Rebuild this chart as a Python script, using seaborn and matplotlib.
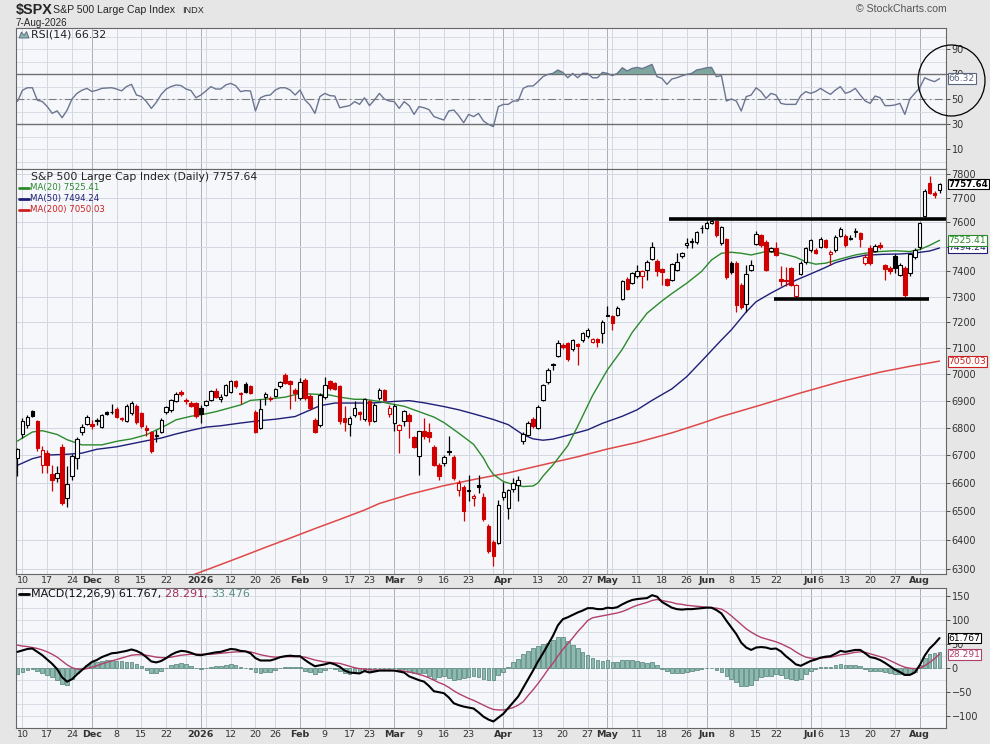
import numpy as np
import matplotlib
matplotlib.use('Agg')
import matplotlib.pyplot as plt
import seaborn as sns
from matplotlib.lines import Line2D
from matplotlib.patches import Ellipse, Polygon
from matplotlib.ticker import FixedLocator, NullLocator

# daily candles, 7-Nov-2025 .. 7-Aug-2026 (one entry per trading day)
open_px = [6690, 6777, 6811, 6863, 6824, 6666, 6708, 6633, 6619, 6732,
           6547, 6627, 6690, 6785, 6815, 6815, 6828, 6805, 6858, 6860,
           6871, 6835, 6824, 6855, 6882, 6855, 6798, 6786, 6772, 6786,
           6857, 6867, 6901, 6932, 6905, 6894, 6892, 6873, 6885, 6904,
           6938, 6906, 6923, 6935, 6973, 6930, 6964, 6956, 6860, 6801,
           6915, 6912, 6919, 6956, 6998, 6973, 6942, 6910, 6979, 6919,
           6830, 6812, 6914, 6975, 6968, 6954, 6835, 6815, 6848, 6858,
           6832, 6898, 6827, 6910, 6940, 6852, 6818, 6793, 6824, 6848,
           6765, 6696, 6787, 6785, 6732, 6666, 6672, 6716, 6694, 6577,
           6586, 6571, 6548, 6592, 6551, 6448, 6395, 6390, 6552, 6512,
           6580, 6595, 6751, 6775, 6832, 6800, 6904, 6970, 7038, 7068,
           7112, 7118, 7095, 7115, 7131, 7147, 7125, 7133, 7157, 7228,
           7224, 7228, 7292, 7370, 7355, 7380, 7383, 7406, 7450, 7442,
           7410, 7370, 7366, 7406, 7462, 7507, 7522, 7518, 7574, 7575,
           7596, 7603, 7514, 7530, 7432, 7432, 7347, 7272, 7406, 7510,
           7545, 7520, 7484, 7493, 7370, 7365, 7413, 7302, 7389, 7439,
           7486, 7488, 7500, 7525, 7470, 7486, 7544, 7544, 7532, 7558,
           7556, 7433, 7493, 7483, 7505, 7425, 7415, 7460, 7386, 7413,
           7395, 7457, 7497, 7624, 7764, 7722, 7733]
high_px = [6728, 6836, 6848, 6866, 6830, 6735, 6720, 6666, 6660, 6740,
           6660, 6705, 6768, 6815, 6848, 6830, 6835, 6852, 6862, 6888,
           6876, 6842, 6888, 6900, 6890, 6860, 6812, 6790, 6792, 6835,
           6880, 6908, 6935, 6940, 6910, 6900, 6895, 6885, 6905, 6942,
           6948, 6925, 6963, 6978, 6980, 6935, 6970, 6960, 6865, 6906,
           6935, 6918, 6950, 6975, 7003, 6978, 6948, 6985, 6985, 6925,
           6835, 6930, 6990, 6980, 6972, 6958, 6880, 6845, 6900, 6862,
           6912, 6905, 6892, 6948, 6945, 6885, 6890, 6815, 6867, 6855,
           6770, 6790, 6836, 6818, 6738, 6672, 6700, 6770, 6700, 6613,
           6592, 6631, 6560, 6631, 6565, 6455, 6400, 6540, 6605, 6580,
           6620, 6625, 6785, 6825, 6840, 6885, 6965, 7025, 7042, 7131,
           7120, 7125, 7135, 7120, 7163, 7178, 7140, 7138, 7208, 7264,
           7228, 7264, 7365, 7378, 7398, 7426, 7406, 7445, 7520, 7448,
           7415, 7375, 7435, 7473, 7480, 7534, 7534, 7565, 7589, 7605,
           7614, 7606, 7585, 7535, 7440, 7440, 7355, 7426, 7446, 7565,
           7550, 7525, 7500, 7520, 7420, 7418, 7418, 7350, 7440, 7500,
           7530, 7495, 7540, 7530, 7485, 7545, 7580, 7550, 7545, 7575,
           7560, 7470, 7505, 7510, 7520, 7430, 7420, 7470, 7433, 7420,
           7475, 7495, 7600, 7735, 7790, 7728, 7762]
low_px = [6624, 6763, 6800, 6840, 6714, 6636, 6636, 6571, 6605, 6524,
          6516, 6610, 6651, 6775, 6810, 6796, 6810, 6800, 6848, 6850,
          6836, 6825, 6820, 6848, 6815, 6800, 6770, 6710, 6750, 6780,
          6850, 6860, 6895, 6920, 6890, 6878, 6835, 6818, 6880, 6900,
          6910, 6895, 6918, 6930, 6950, 6890, 6930, 6925, 6780, 6795,
          6885, 6900, 6915, 6950, 6965, 6870, 6900, 6905, 6905, 6865,
          6780, 6805, 6908, 6940, 6940, 6815, 6790, 6770, 6840, 6830,
          6825, 6810, 6820, 6905, 6898, 6840, 6790, 6708, 6806, 6763,
          6726, 6631, 6760, 6750, 6660, 6613, 6660, 6700, 6610, 6554,
          6466, 6536, 6520, 6565, 6466, 6355, 6310, 6385, 6540, 6472,
          6570, 6536, 6740, 6770, 6800, 6795, 6898, 6965, 7015, 7065,
          7095, 7050, 7090, 7036, 7125, 7140, 7118, 7105, 7118, 7222,
          7170, 7222, 7288, 7325, 7350, 7375, 7333, 7366, 7445, 7380,
          7347, 7340, 7360, 7400, 7455, 7493, 7493, 7510, 7554, 7570,
          7590, 7540, 7505, 7370, 7390, 7240, 7250, 7240, 7400, 7505,
          7500, 7400, 7478, 7460, 7340, 7340, 7340, 7290, 7385, 7430,
          7480, 7470, 7495, 7495, 7426, 7480, 7540, 7500, 7525, 7540,
          7500, 7425, 7425, 7478, 7490, 7366, 7390, 7395, 7380, 7300,
          7380, 7450, 7490, 7620, 7715, 7700, 7720]
close_px = [6723, 6824, 6842, 6845, 6726, 6720, 6664, 6610, 6636, 6530,
            6597, 6698, 6759, 6805, 6842, 6808, 6826, 6848, 6852, 6857,
            6840, 6832, 6882, 6894, 6820, 6808, 6792, 6714, 6775, 6830,
            6876, 6904, 6927, 6926, 6900, 6880, 6845, 6852, 6898, 6938,
            6914, 6916, 6960, 6973, 6954, 6925, 6935, 6931, 6785, 6869,
            6925, 6908, 6945, 6969, 6967, 6964, 6931, 6969, 6910, 6873,
            6786, 6923, 6960, 6950, 6945, 6824, 6820, 6836, 6873, 6852,
            6906, 6824, 6885, 6942, 6904, 6873, 6880, 6812, 6861, 6824,
            6732, 6787, 6770, 6768, 6666, 6625, 6694, 6712, 6619, 6601,
            6500, 6577, 6554, 6586, 6472, 6361, 6344, 6524, 6567, 6577,
            6601, 6613, 6778, 6818, 6808, 6879, 6960, 7017, 7034, 7118,
            7103, 7058, 7131, 7108, 7157, 7170, 7133, 7125, 7202, 7224,
            7196, 7254, 7360, 7330, 7393, 7403, 7400, 7439, 7500, 7403,
            7396, 7347, 7430, 7439, 7472, 7516, 7520, 7561, 7576, 7596,
            7606, 7547, 7578, 7378, 7399, 7268, 7261, 7390, 7426, 7551,
            7507, 7406, 7493, 7466, 7363, 7360, 7347, 7345, 7432, 7493,
            7525, 7473, 7530, 7500, 7480, 7540, 7572, 7507, 7536, 7562,
            7530, 7458, 7433, 7502, 7500, 7408, 7400, 7412, 7426, 7307,
            7470, 7486, 7596, 7730, 7720, 7712, 7757.64]

# moving averages (bar index, value)
ma20_x = [0, 3, 5, 8, 10, 13, 17, 20, 23, 26, 30, 32, 35, 38, 40, 43, 45, 47, 51, 54,
          57, 60, 63, 65, 68, 70, 73, 75, 78, 81, 84, 86, 89, 92, 94, 95, 96, 98, 100, 102,
          104, 105, 106, 108, 111, 113, 116, 119, 122, 124, 127, 130, 132, 135, 138, 140, 142, 144, 146, 148,
          151, 154, 157, 159, 161, 163, 166, 169, 171, 174, 177, 180, 182, 184, 186]
ma20_y = [6752, 6785, 6790, 6776, 6757, 6738, 6738, 6751, 6760, 6775, 6810, 6830, 6843, 6852, 6860, 6875, 6885, 6902, 6908, 6914,
          6928, 6925, 6922, 6914, 6906, 6906, 6898, 6890, 6880, 6860, 6840, 6820, 6781, 6740, 6690, 6657, 6631, 6606, 6595, 6588,
          6590, 6601, 6625, 6665, 6735, 6806, 6920, 7017, 7095, 7160, 7235, 7283, 7312, 7353, 7400, 7446, 7473, 7477, 7473, 7466,
          7480, 7473, 7457, 7439, 7429, 7433, 7450, 7466, 7473, 7480, 7483, 7480, 7488, 7505, 7525.41]
ma50_x = [0, 3, 6, 10, 13, 16, 20, 23, 26, 29, 32, 35, 38, 41, 45, 49, 52, 56, 59, 61,
          64, 67, 71, 73, 76, 79, 82, 86, 89, 92, 96, 99, 102, 104, 106, 108, 111, 115, 118, 122,
          125, 128, 132, 135, 138, 142, 144, 147, 149, 152, 155, 157, 160, 163, 165, 168, 171, 175, 178, 181,
          184, 186]
ma50_y = [6664, 6688, 6701, 6704, 6708, 6722, 6731, 6742, 6753, 6763, 6778, 6791, 6803, 6808, 6818, 6827, 6832, 6842, 6866, 6882,
          6892, 6892, 6892, 6894, 6898, 6901, 6893, 6879, 6867, 6852, 6831, 6812, 6775, 6760, 6755, 6759, 6773, 6793, 6817, 6843,
          6867, 6902, 6945, 6991, 7050, 7131, 7170, 7240, 7280, 7314, 7345, 7365, 7390, 7416, 7435, 7453, 7465, 7469, 7470, 7474,
          7482, 7494.24]
ma200_x = [34, 40, 45, 50, 55, 60, 65, 70, 73, 79, 86, 92, 99, 106, 113, 119, 125, 132, 138, 142,
           150, 158, 166, 174, 180, 186]
ma200_y = [6272, 6310, 6342, 6375, 6407, 6440, 6472, 6505, 6528, 6560, 6591, 6613, 6637, 6666, 6695, 6723, 6747, 6782, 6817, 6842,
           6885, 6930, 6972, 7008, 7030, 7050.03]

rsi = [48, 57, 59, 59, 49, 48, 44, 38.5, 40.5, 35, 41, 50, 54.5, 57, 58.5, 56, 57, 58.5, 58.8, 59,
       58, 56.5, 60, 61.7, 53.2, 52, 48, 42.5, 47.3, 53.7, 58, 60, 61.2, 60.7, 58, 56.7, 51, 53.2, 56.4, 59.9,
       58, 58, 61.2, 62.5, 60.7, 55.9, 56.7, 56.4, 40.4, 51, 52.7, 53.2, 57.2, 59, 59, 57.2, 53.2, 57.2, 49.2, 45.2,
       38.5, 51.9, 54.5, 52.7, 52.4, 43, 43.9, 44.7, 47.9, 45.7, 51, 44.7, 49.2, 54.5, 50, 48.4, 47.9, 42.5, 47.9, 44.7,
       37.7, 43.9, 43, 41.5, 36, 34.5, 33.2, 40.4, 41.2, 36.7, 31, 37.7, 35.9, 38.5, 32.4, 29.7, 27.9, 43.9, 45.7, 45.7,
       48.4, 48.4, 58.5, 60.4, 60.4, 63.9, 67.9, 69.7, 70.5, 73.2, 71.3, 67, 70.5, 67, 70.5, 70.5, 67, 67, 71.3, 70.5,
       68.7, 70.5, 75, 72.4, 74.5, 75.3, 74.3, 75.9, 77.7, 67.9, 66.5, 61.7, 66, 67, 68.5, 69.7, 70.5, 73.2, 74, 75,
       75.3, 67.9, 68.7, 48.4, 50, 48.4, 40.4, 51.9, 53.2, 59, 55.9, 50.5, 54.5, 53.2, 46.5, 45.7, 45.7, 45.7, 52.7, 55.9,
       54.5, 56, 58.5, 55.9, 53.7, 57.2, 59.9, 54.5, 55.9, 58.5, 53.2, 48.4, 46.5, 52.4, 51, 44.7, 44.7, 45.2, 46.5, 37.7,
       50, 54.5, 59, 67, 65.2, 63.9, 66.32]

macd = [33, 36, 39, 40, 33, 26, 17, 8, -3, -20, -29, -24, -14, -5, 4, 12, 16, 22, 26, 30,
        31, 33, 35, 38, 35, 30, 22, 13, 11, 14, 20, 27, 32, 35, 34, 31, 27, 26, 28, 30,
        32, 33, 36, 39, 38, 35, 34, 30, 20, 15, 15, 15, 18, 22, 24, 25, 24, 24, 16, 9,
        3, 5, 7, 10, 7, 2, -6, -10, -11, -12, -7, -10, -8, -6, -6, -6, -6, -8, -10, -18,
        -22, -26, -29, -38, -49, -51, -53, -62, -74, -78, -81, -83, -85, -93, -102, -108, -112, -104, -96, -84,
        -72, -60, -42, -24, -6, 13, 30, 48, 66, 88, 101, 105, 110, 115, 119, 124, 124, 122, 122, 125,
        124, 126, 132, 137, 141, 143, 144, 145, 151, 148, 137, 131, 125, 122, 121, 122, 122, 123, 124, 125,
        125, 120, 113, 98, 84, 70, 52, 42, 37, 42, 43, 42, 39, 40, 34, 24, 16, 7, 4, 9,
        14, 17, 21, 23, 24, 29, 35, 33, 35, 37, 37, 30, 22, 20, 16, 10, 3, -4, -9, -15,
        -15, -10, 5, 25, 40, 50, 61.767]
signal = [47, 45, 44, 42, 40, 37, 33, 28, 22, 14, 6, 0, -3, -3, -2, 1, 4, 8, 11, 14,
          17, 20, 23, 26, 27, 27, 26, 24, 22, 21, 21, 22, 24, 26, 27, 28, 28, 28, 28, 28,
          29, 30, 31, 32, 33, 33, 34, 33, 30, 27, 25, 23, 22, 22, 23, 23, 23, 23, 22, 19,
          16, 14, 12, 11, 10, 9, 6, 3, 0, -2, -3, -4, -5, -5, -5, -5, -6, -6, -7, -9,
          -11, -14, -17, -21, -26, -31, -35, -41, -48, -54, -59, -64, -68, -73, -78, -83, -87, -88, -88, -86,
          -83, -78, -71, -58, -46, -33, -19, -4, 9, 24, 38, 50, 62, 75, 86, 98, 104, 106, 108, 110,
          112, 114, 117, 121, 126, 130, 133, 136, 140, 142, 140, 138, 136, 133, 132, 130, 129, 128, 127, 126,
          125, 124, 122, 116, 108, 99, 90, 81, 74, 68, 63, 60, 57, 54, 50, 45, 40, 33, 27, 22,
          20, 19, 20, 21, 22, 24, 27, 28, 30, 32, 33, 32, 29, 26, 23, 20, 15, 10, 5, 1,
          -1, -2, -1, 4, 11, 19, 28.291]

# x axis: trading-day index of the labelled weeks / months
tick_idx = [1, 6, 11, 15, 20, 25, 30, 37, 43, 48, 52, 57, 62, 67, 71, 76, 81, 86, 91, 98,
            105, 110, 115, 119, 125, 130, 135, 139, 144, 149, 153, 160, 162, 167, 172, 177, 182]
tick_lab = ['10', '17', '24', 'Dec', '8', '15', '22', '2026', '12', '20', '26', 'Feb', '9', '17', '23',
            'Mar', '9', '16', '23', 'Apr', '13', '20', '27', 'May', '11', '18', '26', 'Jun', '8', '15',
            '22', 'Jul', '6', '13', '20', '27', 'Aug']
grid_idx = [1, 6, 11, 15, 20, 25, 30, 34, 37, 38, 43, 48, 52, 57, 62, 67, 71, 76, 81, 86, 91, 96,
            98, 100, 105, 110, 115, 119, 120, 125, 130, 135, 139, 144, 149, 153, 158, 160, 162, 167,
            172, 177, 182]
month_idx = [15, 37, 57, 76, 98, 119, 139, 160, 182]
month_lab = ['Dec', '2026', 'Feb', 'Mar', 'Apr', 'May', 'Jun', 'Jul', 'Aug']

price_ticks = [6300, 6400, 6500, 6600, 6700, 6800, 6900, 7000, 7100, 7200, 7300, 7400, 7500, 7600, 7700, 7800]
rsi_ticks = [10, 30, 50, 70, 90]
macd_ticks = [-100, -50, 0, 50, 100, 150]

# trend lines drawn on the chart
resist_level, resist_span = 7612, (131.4, 187.3)
support_level, support_span = 7292, (152.6, 183.8)

sns.set_style('white')
plt.rcParams['font.family'] = ['DejaVu Sans']

W, H = 990, 744
fig = plt.figure(figsize=(W / 100, H / 100), dpi=100, facecolor='#e6e6e6')


def panel(top, bottom, left=16, right=946):
    return fig.add_axes([left / W, 1 - bottom / H, (right - left) / W, (bottom - top) / H])


def ftext(px, py, s, **kw):
    kw.setdefault('va', 'center')
    kw.setdefault('ha', 'left')
    return fig.text(px / W, 1 - py / H, s, **kw)


ax_rsi = panel(28, 169)
ax = panel(169, 574)
ax_macd = panel(588, 728)

GRID = '#d3d7e1'
MGRID = '#a9aebb'
x = np.arange(len(close_px))
XLIM = (-0.3, 187.3)

for a in (ax_rsi, ax, ax_macd):
    a.set_facecolor('#f5f7fb')
    a.set_xlim(*XLIM)
    for g in grid_idx:
        a.axvline(g, color=MGRID if g in month_idx else GRID, lw=0.7, zorder=0)
    for s in a.spines.values():
        s.set_color('#666666')
        s.set_linewidth(0.8)
    a.yaxis.tick_right()
    a.tick_params(axis='y', labelsize=7, length=3, pad=1, colors='#333333', width=0.6)
    a.set_xticks(tick_idx)
    a.set_xticks(x, minor=True)
    a.tick_params(axis='x', which='major', length=3, direction='in', color='#777777', width=0.6)
    a.tick_params(axis='x', which='minor', length=2, direction='in', color='#999999', width=0.5)

# ---- RSI panel ----
r = np.array(rsi)
ax_rsi.set_ylim(-6, 106.8)
for lv in range(0, 101, 10):
    ax_rsi.axhline(lv, color=GRID, lw=0.6, zorder=0)
ax_rsi.axhline(70, color='#6f6f6f', lw=1.0, zorder=1)
ax_rsi.axhline(30, color='#6f6f6f', lw=1.0, zorder=1)
ax_rsi.axhline(50, color='#7a7a7a', lw=0.8, ls=(0, (7, 3, 1.5, 3)), zorder=1)
ax_rsi.fill_between(x, r, 70, where=r > 70, interpolate=True, color='#7ca69e', zorder=2, lw=0)
ax_rsi.fill_between(x, r, 30, where=r < 30, interpolate=True, color='#7ca69e', zorder=2, lw=0)
sns.lineplot(x=x, y=r, ax=ax_rsi, color='#6b7590', linewidth=1.0, zorder=3)
ax_rsi.set(xlabel='', ylabel='')
ax_rsi.yaxis.set_major_locator(FixedLocator(rsi_ticks))
ax_rsi.tick_params(axis='x', labelbottom=False)

# ---- price panel ----
o = np.array(open_px, dtype=float)
h = np.array(high_px, dtype=float)
l = np.array(low_px, dtype=float)
c = np.array(close_px, dtype=float)
up_day = np.r_[True, c[1:] >= c[:-1]]
edge = np.where(up_day, '#000000', '#d10000')
face = np.where(c > o, '#ffffff', edge)

ax.set_yscale('log')
ax.set_ylim(6284, 7821)
for lv in price_ticks:
    ax.axhline(lv, color=GRID, lw=0.7, zorder=0)

sns.lineplot(x=ma200_x, y=ma200_y, ax=ax, color='#e04848', linewidth=1.1, zorder=2)
sns.lineplot(x=ma50_x, y=ma50_y, ax=ax, color='#1f1f78', linewidth=1.0, zorder=2)
sns.lineplot(x=ma20_x, y=ma20_y, ax=ax, color='#2c8a2c', linewidth=1.0, zorder=2)
ax.set(xlabel='', ylabel='')

ax.vlines(x, l, h, colors=edge, linewidth=0.9, zorder=3)
ax.bar(x, np.maximum(np.abs(c - o), 1.5), bottom=np.minimum(o, c), width=0.7,
       color=face, edgecolor=edge, linewidth=0.8, zorder=4)

ax.hlines(resist_level, *resist_span, color='black', lw=2.6, zorder=5, clip_on=False)
ax.hlines(support_level, *support_span, color='black', lw=2.6, zorder=5)

ax.yaxis.set_major_locator(FixedLocator(price_ticks))
ax.yaxis.set_minor_locator(NullLocator())
ax.yaxis.set_major_formatter(matplotlib.ticker.FuncFormatter(lambda v, p: f'{v:.0f}'))
ax.set_xticklabels(tick_lab, fontsize=6.8, color='#333333')
ax.tick_params(axis='x', pad=1.5)
for t in ax.get_xticklabels():
    if t.get_text() in month_lab:
        t.set_fontweight('bold')

# ---- MACD panel ----
mc = np.array(macd)
sg = np.array(signal)
hist = mc - sg
ax_macd.set_ylim(-125.6, 166)
for lv in range(-100, 151, 25):
    ax_macd.axhline(lv, color=GRID, lw=0.6, zorder=0)
ax_macd.bar(x, hist, width=0.75, color='#8dbab0', edgecolor='#4f7d74', linewidth=0.5, zorder=2)
sns.lineplot(x=x, y=sg, ax=ax_macd, color='#b2406c', linewidth=1.0, zorder=3)
sns.lineplot(x=x, y=mc, ax=ax_macd, color='#000000', linewidth=1.5, zorder=4)
ax_macd.set(xlabel='', ylabel='')
ax_macd.yaxis.set_major_locator(FixedLocator(macd_ticks))
ax_macd.set_xticklabels(tick_lab, fontsize=6.8, color='#333333')
ax_macd.tick_params(axis='x', pad=1.5)
for t in ax_macd.get_xticklabels():
    if t.get_text() in month_lab:
        t.set_fontweight('bold')


# ---- value boxes on the right edge ----
def vbox(a, val, txt, col, bold=False, size=6.6):
    a.annotate(txt, xy=(1, val), xycoords=('axes fraction', 'data'), xytext=(1.8, 0),
               textcoords='offset points', va='center', ha='left', fontsize=size,
               color=col, fontweight='bold' if bold else 'normal',
               bbox=dict(boxstyle='square,pad=0.1', fc='white', ec=col, lw=0.8),
               annotation_clip=False, zorder=10)


vbox(ax_rsi, rsi[-1], f'{rsi[-1]:.2f}', '#5a6580')
vbox(ax, ma200_y[-1], f'{ma200_y[-1]:.2f}', '#cc2020')
vbox(ax, ma50_y[-1], f'{ma50_y[-1]:.2f}', '#1f1f78')
vbox(ax, ma20_y[-1], f'{ma20_y[-1]:.2f}', '#2c8a2c')
vbox(ax, close_px[-1], f'{close_px[-1]:.2f}', '#000000', bold=True, size=6.2)
vbox(ax_macd, signal[-1], f'{signal[-1]:.3f}', '#b2406c')
vbox(ax_macd, macd[-1], f'{macd[-1]:.3f}', '#000000')

# ---- header and legends ----
ftext(16, 10, '$SPX', fontsize=10.4, fontweight='bold', family='Liberation Sans')
ftext(53, 10, 'S&P 500 Large Cap Index', fontsize=7.6, family='Liberation Sans')
ftext(182, 10.5, 'INDX', fontsize=6.6, family='Liberation Sans')
ftext(16, 22.5, '7-Aug-2026', fontsize=7.1, family='Liberation Sans')
ftext(947, 9, '\u00a9 StockCharts.com', fontsize=7.6, family='Liberation Sans', ha='right', color='#555555')

fig.add_artist(Polygon([[19 / W, 1 - 38 / H], [21.5 / W, 1 - 32 / H], [24 / W, 1 - 35.5 / H],
                        [26.5 / W, 1 - 31.5 / H], [29 / W, 1 - 38 / H]], closed=True,
                       fc='#8fb3ac', ec='#55627a', lw=0.6, transform=fig.transFigure))
ftext(31, 34.5, f'RSI(14) {rsi[-1]:.2f}', fontsize=7.9, color='#222222')

ftext(31, 176.5, f'S&P 500 Large Cap Index (Daily) {close_px[-1]:.2f}', fontsize=7.8, color='#222222')
for py, txt, col in [(187.5, f'MA(20) {ma20_y[-1]:.2f}', '#2c8a2c'),
                     (198.5, f'MA(50) {ma50_y[-1]:.2f}', '#1f1f78'),
                     (209.5, f'MA(200) {ma200_y[-1]:.2f}', '#cc2020')]:
    fig.add_artist(Line2D([19 / W, 28.5 / W], [1 - py / H] * 2, color=col, lw=2, transform=fig.transFigure))
    ftext(29.5, py, txt, fontsize=6.2, color=col)

fig.add_artist(Line2D([19 / W, 28.5 / W], [1 - 594 / H] * 2, color='black', lw=2, transform=fig.transFigure))
renderer = fig.canvas.get_renderer()
px = 31.5
for txt, col in [(f'MACD(12,26,9) {macd[-1]:.3f}, ', '#111111'),
                 (f'{signal[-1]:.3f}, ', '#a0305a'),
                 (f'{hist[-1]:.3f}', '#5f9088')]:
    t = ftext(px, 594, txt, fontsize=8.0, color=col)
    bb = t.get_window_extent(renderer)
    px += bb.width

fig.add_artist(Ellipse((951.5 / W, 1 - 80.5 / H), 67 / W, 71 / H, fill=False, ec='black', lw=0.9,
                       transform=fig.transFigure))

fig.savefig('out.png', dpi=100, facecolor=fig.get_facecolor())
